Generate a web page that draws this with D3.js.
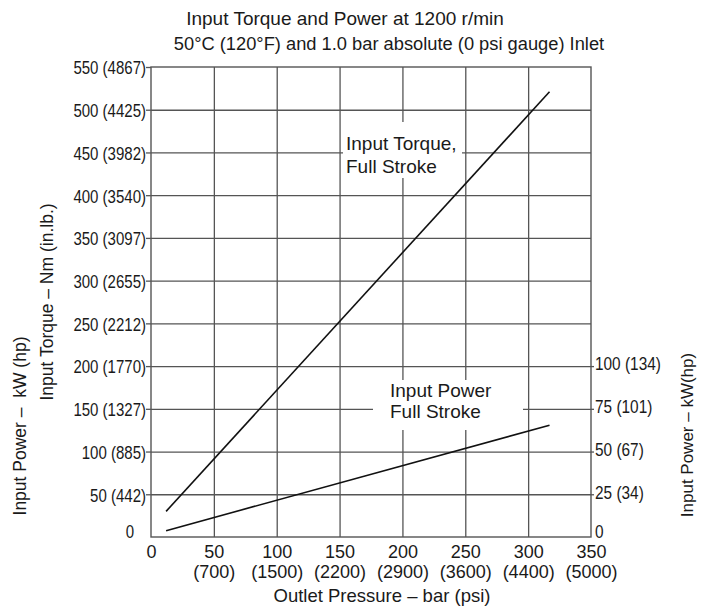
<!DOCTYPE html>
<html><head><meta charset="utf-8">
<script src="https://cdn.jsdelivr.net/npm/d3@7"></script>
<style>
body{margin:0;background:#fff}
svg{display:block;background:#fff}
text{fill:#1a1a1a}
</style>
</head><body><svg id="c" width="706" height="609"></svg>
<script>
// ---- data ----
const titleLines = ["Input Torque and Power at 1200 r/min", "50°C (120°F) and 1.0 bar absolute (0 psi gauge) Inlet"];
const xTitle = "Outlet Pressure – bar (psi)";
const yTitleTorque = "Input Torque – Nm (in.lb.)";
const yTitlePowerLeft = "Input Power –  kW (hp)";
const yTitlePowerRight = "Input Power – kW(hp)";
const pressureBar = [0, 50, 100, 150, 200, 250, 300, 350];
const pressurePsi = [null, 700, 1500, 2200, 2900, 3600, 4400, 5000];
const torqueNm = [0, 50, 100, 150, 200, 250, 300, 350, 400, 450, 500, 550];
const torqueInLb = [null, 442, 885, 1327, 1770, 2212, 2655, 3097, 3540, 3982, 4425, 4867];
const powerKw = [0, 25, 50, 75, 100];
const powerHp = [null, 34, 67, 101, 134];
const seriesPressure = [12, 317];
const seriesTorque = [30, 521];
const seriesPower = [3.7, 65.4];
const torqueLabel = ["Input Torque,", "Full Stroke"];
const powerLabel = ["Input Power", "Full Stroke"];

// ---- layout ----
const L = 151, R = 591, T = 67, B = 537;
const GRID = "#555";
const SANS = "'Liberation Sans', Arial, sans-serif";

const svg = d3.select("#c");
const x = d3.scaleLinear().domain([0, 350]).range([L, R]);
const y = d3.scaleLinear().domain([0, 550]).range([B, T]);
const yP = d3.scaleLinear().domain([0, 275]).range([B, T]);

function condense(sel, k) {
  sel.each(function () {
    const n = this.getComputedTextLength();
    d3.select(this).attr("textLength", n * k).attr("lengthAdjust", "spacingAndGlyphs");
  });
}

// title
svg.append("text").attr("x", 345).attr("y", 25).attr("text-anchor", "middle")
  .style("font-family", SANS).style("font-size", "19px").text(titleLines[0]);
svg.append("text").attr("x", 389).attr("y", 50).attr("text-anchor", "middle")
  .style("font-family", SANS).style("font-size", "18.3px").text(titleLines[1]);

// grid (via axes)
const gx = svg.append("g").attr("transform", `translate(0,${B})`)
  .call(d3.axisBottom(x).tickValues(pressureBar.slice(1, -1)).tickSize(-(B - T)).tickFormat(""));
const gy = svg.append("g").attr("transform", `translate(${L},0)`)
  .call(d3.axisLeft(y).tickValues(torqueNm.slice(1, -1)).tickSize(-(R - L)).tickFormat(""));
[gx, gy].forEach(g => {
  g.select(".domain").remove();
  g.selectAll("line").attr("stroke", GRID).attr("stroke-width", 1.3);
});

// left tick labels
const ax = svg.append("g").attr("transform", `translate(${L},0)`)
  .call(d3.axisLeft(y).tickValues(torqueNm).tickSize(5).tickPadding(0)
    .tickFormat((d, i) => torqueInLb[i] == null ? d : `${d} (${torqueInLb[i]})`));
ax.select(".domain").remove();
ax.selectAll("line").attr("stroke", GRID).attr("stroke-width", 1.3);
ax.selectAll("text").style("font-family", SANS).style("font-size", "19px").attr("fill", "#1a1a1a").attr("dy", "0.36em");
ax.selectAll(".tick").filter(d => d === 0).each(function () {
  d3.select(this).select("line").remove();
  d3.select(this).select("text").attr("x", -17).attr("dy", "0.05em");
});
condense(ax.selectAll("text"), 0.79);

// right tick labels (power)
const ar = svg.append("g").attr("transform", `translate(${R},0)`)
  .call(d3.axisRight(yP).tickValues(powerKw).tickSize(3).tickPadding(1)
    .tickFormat((d, i) => powerHp[i] == null ? d : `${d} (${powerHp[i]})`));
ar.select(".domain").remove();
ar.selectAll("line").attr("stroke", GRID).attr("stroke-width", 1.3);
ar.selectAll("text").style("font-family", SANS).style("font-size", "19px").attr("fill", "#1a1a1a").attr("dy", "0.2em");
ar.selectAll(".tick").filter(d => d === 0).each(function () {
  d3.select(this).select("line").remove();
  d3.select(this).select("text").attr("dy", "0.05em");
});
condense(ar.selectAll("text"), 0.81);

// bottom tick labels (two rows)
const ab = svg.append("g").attr("transform", `translate(0,${B})`)
  .call(d3.axisBottom(x).tickValues(pressureBar).tickSize(0).tickPadding(0).tickFormat(""));
ab.select(".domain").remove();
ab.selectAll(".tick").each(function (d, i) {
  const g = d3.select(this);
  g.select("text").remove();
  g.append("text").attr("y", 21).attr("text-anchor", "middle")
    .style("font-family", SANS).style("font-size", "18px").attr("fill", "#1a1a1a").text(d);
  if (pressurePsi[i] != null)
    g.append("text").attr("y", 41.3).attr("text-anchor", "middle")
      .style("font-family", SANS).style("font-size", "18px").attr("fill", "#1a1a1a").text(`(${pressurePsi[i]})`);
});

// frame
svg.append("rect").attr("x", L).attr("y", T).attr("width", R - L).attr("height", B - T)
  .attr("fill", "none").attr("stroke", GRID).attr("stroke-width", 1.4);

// label boxes
function labelBox(lines, bx, by, bw, bh, tx, ty, lh) {
  svg.append("rect").attr("x", bx).attr("y", by).attr("width", bw).attr("height", bh).attr("fill", "#fff");
  const t = svg.append("text").style("font-family", SANS).style("font-size", "19px");
  lines.forEach((s, i) => t.append("tspan").attr("x", tx).attr("y", ty + i * lh).text(s));
}
labelBox(torqueLabel, 343, 122, 119, 56, 346, 150, 22.5);
labelBox(powerLabel, 373, 380, 150, 50, 390, 397, 20.5);

// data lines
const lineT = d3.line().x(d => x(d[0])).y(d => y(d[1]));
const lineP = d3.line().x(d => x(d[0])).y(d => yP(d[1]));
svg.append("path").datum(seriesPressure.map((p, i) => [p, seriesTorque[i]]))
  .attr("d", lineT).attr("fill", "none").attr("stroke", "#111").attr("stroke-width", 1.6);
svg.append("path").datum(seriesPressure.map((p, i) => [p, seriesPower[i]]))
  .attr("d", lineP).attr("fill", "none").attr("stroke", "#111").attr("stroke-width", 1.6);

// axis titles
svg.append("text").attr("text-anchor", "middle").attr("transform", `translate(382,602)`)
  .style("font-family", SANS).style("font-size", "18.5px").text(xTitle);
svg.append("text").attr("text-anchor", "middle").attr("transform", `translate(53,302) rotate(-90)`)
  .style("font-family", SANS).style("font-size", "17.5px").text(yTitleTorque);
svg.append("text").attr("text-anchor", "middle").attr("transform", `translate(26,426) rotate(-90)`)
  .style("font-family", SANS).style("font-size", "17.5px").style("white-space", "pre").text(yTitlePowerLeft);
svg.append("text").attr("text-anchor", "middle").attr("transform", `translate(693,435) rotate(-90)`)
  .style("font-family", SANS).style("font-size", "17px").text(yTitlePowerRight);
</script>
</body></html>
